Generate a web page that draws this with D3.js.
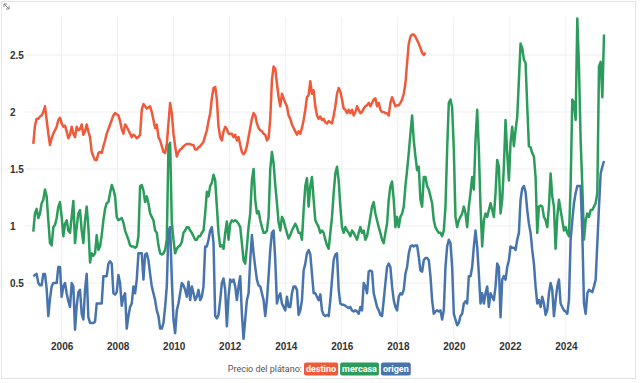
<!DOCTYPE html>
<html>
<head>
<meta charset="utf-8">
<script src="https://cdn.jsdelivr.net/npm/d3@7"></script>
<style>
  body { margin: 0; background: #fff; }
  svg { display: block; font-family: Roboto, "Noto Sans", sans-serif; }
  .tick text { font-weight: bold; fill: #333; }
</style>
</head>
<body>
<div id="chart"></div>
<script>
// precio del plátano, serie muestreada cada ~3 semanas desde finales de 2004
var inicio = new Date(2004, 11, 27),
  pasoDias = 21.757;

var destino = [
  1.72,1.88,1.94,1.94,1.96,1.97,2.00,2.05,1.93,1.81,1.71,1.77,1.81,1.84,1.87,1.93,1.95,1.90,1.87,1.88,
  1.83,1.77,1.80,1.87,1.81,1.78,1.87,1.84,1.85,1.89,1.80,1.83,1.89,1.83,1.78,1.65,1.61,1.58,1.58,1.64,
  1.65,1.64,1.70,1.75,1.81,1.85,1.89,1.93,1.97,1.99,1.98,1.97,1.92,1.85,1.81,1.89,1.87,1.84,1.81,1.78,
  1.80,1.79,1.77,1.78,1.80,2.02,2.07,2.05,2.03,2.04,2.05,2.00,1.93,1.86,1.89,1.78,1.75,1.70,1.65,1.64,
  1.72,1.90,2.08,1.99,1.81,1.70,1.61,1.65,1.67,1.68,1.70,1.71,1.72,1.72,1.72,1.71,1.71,1.67,1.67,1.69,
  1.70,1.72,1.74,1.79,1.84,1.92,1.99,2.12,2.21,2.22,2.11,1.87,1.78,1.75,1.83,1.87,1.85,1.81,1.81,1.81,
  1.78,1.80,1.75,1.78,1.71,1.65,1.63,1.65,1.70,1.78,1.86,1.94,1.99,1.97,1.90,1.86,1.84,1.83,1.81,1.80,
  1.75,1.77,1.94,2.28,2.40,2.38,2.25,2.13,2.05,2.16,2.12,2.08,2.05,1.97,1.94,1.89,1.86,1.83,1.80,1.83,
  1.81,1.86,1.93,2.02,2.13,2.15,2.27,2.16,2.19,2.05,1.97,1.94,1.96,1.93,1.94,1.91,1.90,1.92,1.91,1.90,
  1.97,2.05,2.16,2.21,2.18,2.11,2.03,2.02,1.99,2.02,1.99,2.02,1.97,2.00,2.05,2.02,1.99,2.00,2.03,2.05,
  2.06,2.08,2.05,2.08,2.11,2.12,2.05,2.08,2.02,2.00,2.00,1.99,1.99,1.97,2.08,2.13,2.09,2.05,2.06,2.06,
  2.08,2.11,2.16,2.25,2.43,2.60,2.66,2.68,2.68,2.66,2.63,2.60,2.56,2.52,2.50,2.52
];

var mercasa = [
  0.95,1.11,1.15,1.07,1.11,1.20,1.23,1.32,1.26,1.05,0.85,0.83,0.99,1.01,1.07,1.17,1.21,1.08,0.91,1.02,
  1.05,0.96,0.94,1.08,1.22,0.85,0.99,1.11,1.14,0.96,0.85,1.05,1.17,0.99,0.68,0.76,0.74,0.76,0.92,0.79,
  0.82,0.92,1.05,1.15,1.20,1.21,1.29,1.36,1.32,1.26,1.08,1.05,1.06,1.07,1.03,0.96,0.92,0.88,0.83,0.82,
  0.82,0.81,0.82,0.91,1.35,1.36,1.31,1.21,1.26,1.20,1.11,1.08,1.05,0.96,0.94,0.83,0.76,0.75,0.76,0.79,
  0.88,1.70,1.73,1.03,0.88,0.76,0.80,0.82,0.83,0.86,0.94,0.96,0.99,0.99,0.96,0.94,0.91,0.88,0.88,0.91,
  0.91,0.94,0.96,1.11,1.30,1.26,1.35,1.38,1.45,1.40,1.17,0.94,0.82,0.83,0.80,0.94,1.04,0.88,1.02,1.05,
  1.04,1.05,1.04,1.02,0.99,0.85,0.70,0.67,0.82,0.99,1.11,1.40,1.50,1.23,1.11,1.13,1.05,0.99,0.94,0.94,
  0.96,1.08,1.50,1.65,1.55,1.36,1.20,1.03,0.96,1.08,1.05,0.99,0.94,0.89,0.92,0.96,0.99,1.02,0.99,0.94,
  0.94,0.88,1.14,1.35,1.42,1.17,1.35,1.43,1.23,1.05,1.02,0.99,0.94,0.96,0.94,0.88,0.83,0.80,0.94,1.08,
  1.29,1.46,1.52,1.40,1.17,0.99,0.94,0.99,0.96,0.94,0.91,0.96,0.94,0.91,0.88,0.94,0.99,0.94,0.96,0.88,
  0.91,0.99,1.08,1.17,1.21,1.11,1.05,0.99,0.94,0.88,0.85,0.94,1.02,1.23,1.35,1.39,1.23,0.99,1.08,0.99,
  1.08,1.11,1.17,1.35,1.49,1.64,1.81,1.97,1.75,1.61,1.49,1.52,1.23,1.17,1.43,1.43,1.35,1.32,1.26,1.20,
  1.05,0.99,0.96,0.94,0.94,0.91,0.96,1.17,1.67,2.08,2.11,2.04,1.67,1.08,0.99,1.05,1.08,1.11,1.17,1.11,
  0.99,1.17,1.29,1.43,1.32,1.75,2.02,1.67,1.17,0.82,1.05,1.11,1.08,1.14,1.20,1.14,1.08,1.29,1.58,1.52,
  1.11,1.23,1.52,1.93,1.64,1.40,1.73,1.87,1.70,1.84,1.96,2.28,2.60,2.56,2.46,2.43,2.05,1.70,1.69,1.64,
  1.61,1.43,0.94,1.17,1.18,1.17,1.08,1.05,0.99,1.17,1.46,1.26,1.17,0.80,1.08,1.23,1.14,1.05,0.96,0.99,
  0.94,0.91,1.35,2.11,2.08,1.93,2.82,2.40,1.75,1.35,0.88,1.05,1.11,1.08,1.14,1.14,1.17,1.20,1.29,2.40,
  2.44,2.13,2.68
];

var origen = [
  0.56,0.57,0.58,0.50,0.48,0.48,0.58,0.58,0.45,0.21,0.36,0.47,0.50,0.50,0.50,0.64,0.64,0.38,0.47,0.50,
  0.41,0.34,0.29,0.50,0.47,0.09,0.30,0.42,0.44,0.23,0.18,0.44,0.58,0.20,0.15,0.15,0.15,0.16,0.32,0.32,
  0.32,0.32,0.56,0.56,0.56,0.67,0.69,0.67,0.41,0.40,0.42,0.57,0.50,0.30,0.38,0.41,0.10,0.21,0.29,0.32,
  0.47,0.41,0.53,0.76,0.76,0.76,0.53,0.75,0.76,0.70,0.58,0.47,0.41,0.35,0.26,0.21,0.10,0.10,0.15,0.29,
  0.47,0.96,0.99,0.53,0.18,0.06,0.26,0.32,0.41,0.50,0.48,0.44,0.38,0.51,0.35,0.47,0.41,0.35,0.38,0.44,
  0.35,0.38,0.47,0.82,0.82,0.88,0.96,0.99,0.85,0.21,0.19,0.22,0.35,0.50,0.54,0.44,0.12,0.38,0.53,0.51,
  0.53,0.47,0.35,0.47,0.56,0.23,0.01,0.18,0.35,0.41,0.70,0.92,0.76,0.64,0.53,0.48,0.47,0.41,0.35,0.21,
  0.35,0.56,0.79,0.94,0.96,0.70,0.32,0.38,0.41,0.32,0.29,0.26,0.38,0.29,0.29,0.41,0.47,0.47,0.44,0.22,
  0.26,0.35,0.61,0.67,0.76,0.79,0.75,0.58,0.41,0.41,0.38,0.35,0.40,0.26,0.22,0.21,0.22,0.21,0.35,0.53,
  0.70,0.75,0.76,0.44,0.32,0.31,0.31,0.30,0.29,0.28,0.29,0.26,0.25,0.26,0.25,0.23,0.29,0.26,0.50,0.47,
  0.41,0.60,0.61,0.60,0.41,0.35,0.29,0.26,0.22,0.21,0.35,0.50,0.64,0.67,0.64,0.47,0.35,0.29,0.26,0.38,
  0.41,0.40,0.44,0.58,0.64,0.76,0.82,0.83,0.82,0.83,0.83,0.73,0.61,0.60,0.70,0.72,0.72,0.70,0.56,0.35,
  0.23,0.25,0.26,0.25,0.26,0.18,0.26,0.64,0.82,0.88,0.85,0.64,0.23,0.18,0.13,0.15,0.21,0.23,0.32,0.34,
  0.32,0.56,0.56,0.64,0.82,0.96,0.82,0.58,0.32,0.41,0.32,0.41,0.47,0.29,0.41,0.38,0.35,0.47,0.67,0.64,
  0.20,0.53,0.56,0.53,0.64,0.70,0.82,0.81,0.81,0.79,0.88,0.94,1.23,1.33,1.35,1.30,1.14,1.02,0.94,0.79,
  0.67,0.47,0.32,0.35,0.29,0.38,0.32,0.22,0.26,0.41,0.50,0.44,0.21,0.35,0.47,0.53,0.32,0.29,0.26,0.25,
  0.23,0.35,0.88,1.05,1.20,1.29,1.35,1.35,1.35,0.94,0.32,0.23,0.41,0.44,0.43,0.42,0.47,0.53,0.85,1.17,
  1.46,1.52,1.57
];

var nombres = ["destino", "mercasa", "origen"];
var colores = {"destino": "#ef5a3b", "mercasa": "#2b9c5b", "origen": "#4874ad"};
var yTicks = [0.5, 1, 1.5, 2, 2.5];

var width = 640, height = 383;
var svg = d3.select("#chart").append("svg").attr("width", width).attr("height", height);

function fecha(i) {
  return new Date(inicio.getTime() + i * pasoDias * 86400000);
}

function aSerie(vals) {
  return vals.map(function (v, i) { return {date: fecha(i), value: v}; });
}

var series = {"destino": aSerie(destino), "mercasa": aSerie(mercasa), "origen": aSerie(origen)};

var x = d3.scaleTime()
  .domain([inicio, fecha(mercasa.length - 1)])
  .range([33.3, 604]);
var y = d3.scaleLinear().domain([0, 2.5]).range([340, 55]);

// marco
svg.append("rect")
  .attr("x", 1.5).attr("y", 1.5)
  .attr("width", 634).attr("height", 377)
  .attr("fill", "none").attr("stroke", "#e3e3e3");

// icono de expandir
var ico = svg.append("g").attr("stroke", "#888").attr("stroke-width", 1).attr("fill", "none");
ico.append("path").attr("d", "M4,4 L9,9 M4,4 L4,7 M4,4 L7,4 M9,9 L9,6 M9,9 L6,9");

// rejilla
svg.append("g").selectAll("line")
  .data(yTicks)
  .enter().append("line")
  .attr("x1", 25).attr("x2", 605)
  .attr("y1", function (d) { return y(d); })
  .attr("y2", function (d) { return y(d); })
  .attr("stroke", "#efefef");

var xTicks = x.ticks(d3.timeYear.every(2));
svg.append("g").selectAll("line")
  .data(xTicks)
  .enter().append("line")
  .attr("x1", function (d) { return x(d); })
  .attr("x2", function (d) { return x(d); })
  .attr("y1", 17).attr("y2", 338)
  .attr("stroke", "#efefef");

// ejes
var xAxis = svg.append("g")
  .attr("transform", "translate(0,338)")
  .call(d3.axisBottom(x).tickValues(xTicks).tickFormat(d3.timeFormat("%Y")).tickSize(0).tickPadding(5));
xAxis.select(".domain").remove();
xAxis.selectAll("text").style("font-size", "10px");

var yAxis = svg.append("g")
  .call(d3.axisLeft(y).tickValues(yTicks).tickFormat(function (d) { return d; }).tickSize(0));
yAxis.select(".domain").remove();
yAxis.selectAll("text")
  .attr("x", 10)
  .style("text-anchor", "start")
  .style("font-size", "10px");

// lineas
var line = d3.line()
  .x(function (d) { return x(d.date); })
  .y(function (d) { return y(d.value); });

nombres.forEach(function (n) {
  svg.append("path")
    .datum(series[n])
    .attr("fill", "none")
    .attr("stroke", colores[n])
    .attr("stroke-width", 2.5)
    .attr("stroke-linejoin", "round")
    .attr("d", line);
});

// leyenda
var legY = 369;
svg.append("text")
  .attr("x", 302)
  .attr("y", legY)
  .attr("dy", "0.35em")
  .style("text-anchor", "end")
  .style("font-size", "9px")
  .style("fill", "#555")
  .text("Precio del plátano:");

var lx = 304;
nombres.forEach(function (n) {
  var g = svg.append("g");
  var t = g.append("text")
    .attr("y", legY)
    .attr("dy", "0.35em")
    .style("font-size", "9px")
    .style("font-weight", "bold")
    .style("fill", "#fff")
    .text(n);
  var w = t.node().getComputedTextLength() + 4;
  g.insert("rect", "text")
    .attr("x", lx).attr("y", legY - 6.5)
    .attr("width", w).attr("height", 13)
    .attr("rx", 2)
    .attr("fill", colores[n]);
  t.attr("x", lx + 2);
  lx += w + 2;
});
</script>
</body>
</html>
